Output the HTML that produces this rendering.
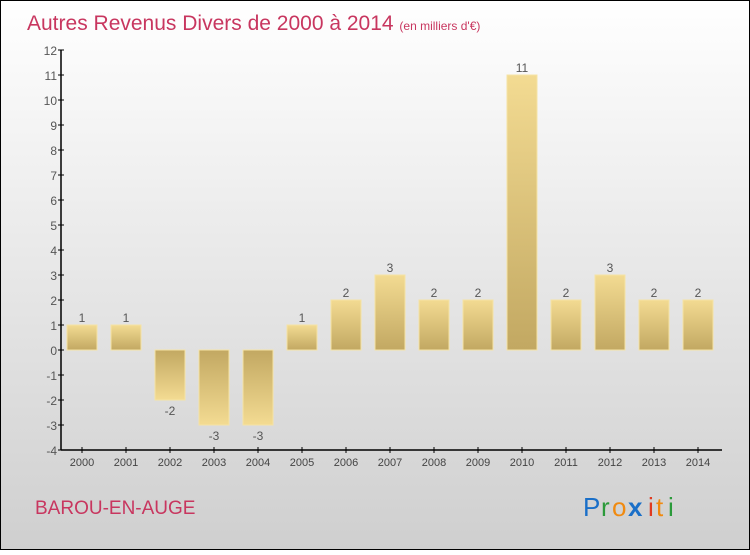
<!DOCTYPE html>
<html><head><meta charset="utf-8"><style>
body{margin:0}
svg text{font-family:"Liberation Sans",sans-serif}
</style></head><body>
<svg width="750" height="550" viewBox="0 0 750 550" xmlns="http://www.w3.org/2000/svg">
<defs>
<linearGradient id="bg" x1="0" y1="0" x2="0" y2="1"><stop offset="0" stop-color="#ffffff"/><stop offset="1" stop-color="#cfcfcf"/></linearGradient>
<linearGradient id="pos" x1="0" y1="0" x2="0" y2="1"><stop offset="0" stop-color="#f3db92"/><stop offset="1" stop-color="#c2a862"/></linearGradient>
<linearGradient id="neg" x1="0" y1="0" x2="0" y2="1"><stop offset="0" stop-color="#c2a862"/><stop offset="1" stop-color="#f3db92"/></linearGradient>
</defs>
<rect x="0.5" y="0.5" width="749" height="549" fill="url(#bg)" stroke="#000"/>
<text x="27" y="30" font-size="21" fill="#c8365f">Autres Revenus Divers de 2000 à 2014 <tspan font-size="12">(en milliers d'€)</tspan></text>
<text x="35" y="514" font-size="19" fill="#c8365f">BAROU-EN-AUGE</text>
<g font-size="26" font-family="Liberation Sans,sans-serif">
<text x="583" y="516" fill="#1a6fc8">P</text><text x="601" y="516" fill="#2b9a3a">r</text><text x="612" y="516" fill="#f08a10">o</text><text x="628" y="516" fill="#1a6fc8" font-weight="bold">x</text><text x="648" y="516" fill="#e03a20">i</text><text x="656" y="516" fill="#f08a10">t</text><text x="668" y="516" fill="#2b9a3a">i</text>
</g>
<g id="axes"></g>
<g id="bars"></g>
</svg>
<script>
const years=["2000","2001","2002","2003","2004","2005","2006","2007","2008","2009","2010","2011","2012","2013","2014"];
const values=[1,1,-2,-3,-3,1,2,3,2,2,11,2,3,2,2];
const yTicks=[-4,-3,-2,-1,0,1,2,3,4,5,6,7,8,9,10,11,12];
const NS="http://www.w3.org/2000/svg";
const y=v=>350-v*25;
const x=i=>82+i*44;
const ax=document.getElementById('axes'),bg=document.getElementById('bars');
function mk(tag,attrs,parent,text){const e=document.createElementNS(NS,tag);for(const k in attrs)e.setAttribute(k,attrs[k]);if(text!==undefined)e.textContent=text;parent.appendChild(e);return e;}
let l=mk('line',{x1:61,y1:50,x2:61,y2:450,stroke:'#000','stroke-width':1.5},ax);


l=mk('line',{x1:61,y1:450,x2:722,y2:450,stroke:'#000','stroke-width':1.5},ax);


yTicks.forEach(t=>{
 const tk=mk('line',{x1:58,y1:y(t),x2:64,y2:y(t),stroke:'#000'},ax);
 
 
 const tx=mk('text',{x:57,y:y(t)+5,'text-anchor':'end','font-size':12,fill:'#555'},ax,String(t));
 
 
});
years.forEach((yr,i)=>{
 const tk=mk('line',{x1:x(i),y1:447,x2:x(i),y2:453,stroke:'#000'},ax);
 
 
 const tx=mk('text',{x:x(i),y:466,'text-anchor':'middle','font-size':11,fill:'#444'},ax,yr);
 
 
 const v=values[i];
 const top=Math.min(y(v),y(0)),h=Math.abs(y(v)-y(0));
 const r=mk('rect',{x:x(i)-15,y:top,width:30,height:h,fill:v>=0?'url(#pos)':'url(#neg)',stroke:'#f5e3a5','stroke-width':1},bg);
 
 
 const lb=mk('text',{x:x(i),y:v>=0?y(v)-3:y(v)+15,'text-anchor':'middle','font-size':12,fill:'#555'},bg,String(v));
 
 
});
</script>
</body></html>
